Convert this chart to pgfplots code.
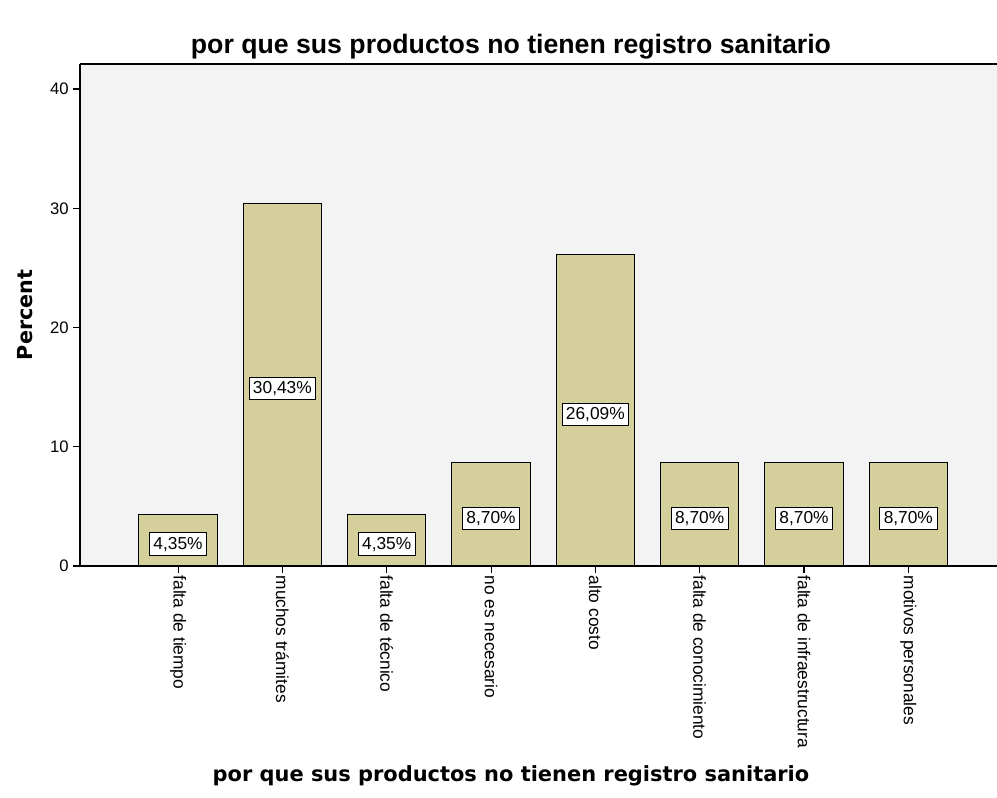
\documentclass[border=0pt]{standalone}
\usepackage{pgfplots}
\pgfplotsset{compat=1.18}
\usepackage{fontspec}
\setmainfont{Liberation Sans}
\newfontfamily\labelfont{DejaVu Sans}

\definecolor{barfill}{RGB}{213,208,155}
\definecolor{plotbg}{RGB}{243,243,243}

\pgfplotstableread{
x  y
1  4.35
2  30.43
3  4.35
4  8.70
5  26.09
6  8.70
7  8.70
8  8.70
}\razones

\begin{document}
\begin{tikzpicture}
\begin{axis}[
    name=ax,
    at={(0,0)}, anchor=south west,
    scale only axis,
    width=687.75pt, height=376.5pt,
    xmin=0.06, xmax=8.85,
    ymin=0, ymax=42.1,
    axis x line*=bottom,
    axis y line*=left,
    axis line style={-, black, line width=0.9pt},
    axis background/.style={fill=plotbg},
    tick align=outside,
    major tick length=5pt,
    tick style={black, line width=0.8pt},
    ytick={0,10,20,30,40},
    xtick=data,
    xticklabels={falta de tiempo, muchos trámites, falta de técnico, no es necesario,
                 alto costo, falta de conocimiento, falta de infraestructura, motivos personales},
    xticklabel style={rotate=-90, anchor=west, font=\fontsize{13}{15}\selectfont, inner sep=2pt},
    yticklabel style={font=\fontsize{12.5}{15}\selectfont},
    /pgf/number format/assume math mode=true,
    ylabel={\labelfont\bfseries Percent},
    ylabel style={font=\fontsize{15.5}{18}\selectfont, at={(axis description cs:0,0.5)}, anchor=center, yshift=41pt},
    xlabel={\labelfont\bfseries por que sus productos no tienen registro sanitario},
    xlabel style={font=\fontsize{15.7}{18}\selectfont, at={(axis description cs:0.47,0)}, anchor=center, yshift=-157pt},
    title={\bfseries por que sus productos no tienen registro sanitario},
    title style={font=\fontsize{20}{23}\selectfont, at={(axis description cs:0.47,1)}, anchor=base, yshift=2pt},
    clip=false,
]
\addplot[
    ybar, bar width=0.75,
    fill=barfill, draw=black, line width=0.8pt,
    visualization depends on=y \as \rawy,
    nodes near coords={\pgfmathprintnumber[fixed, fixed zerofill, precision=2, use comma]{\pgfplotspointmeta}\%},
    every node near coord/.append style={
        anchor=center, fill=white, draw=black, line width=0.6pt,
        inner sep=3pt, font=\fontsize{13}{15}\selectfont,
        shift={(axis direction cs:0,-\rawy/2)}, yshift=-3pt},
] table[x=x, y=y] {\razones};
\draw[black, line width=0.9pt] (rel axis cs:0,1) -- (rel axis cs:1,1);
\end{axis}
\pgfresetboundingbox
\useasboundingbox (-60pt,-174pt) rectangle (687.75pt,424.5pt);
\end{tikzpicture}
\end{document}
